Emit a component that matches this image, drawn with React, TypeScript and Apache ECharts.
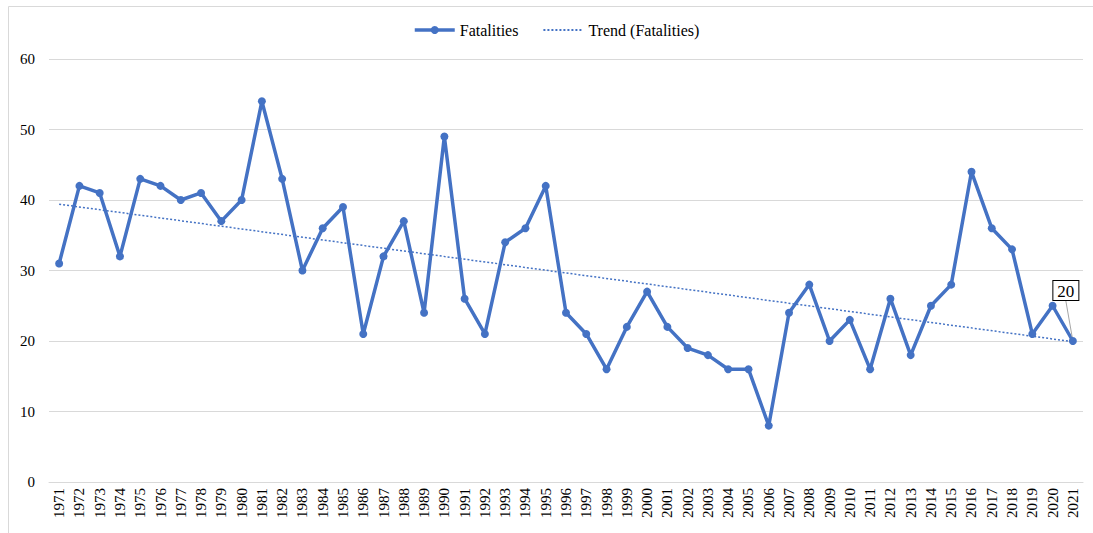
import React, { useEffect, useRef } from "react";
import * as echarts from "echarts";

const years: string[] = [
  "1971","1972","1973","1974","1975","1976","1977","1978","1979","1980",
  "1981","1982","1983","1984","1985","1986","1987","1988","1989","1990",
  "1991","1992","1993","1994","1995","1996","1997","1998","1999","2000",
  "2001","2002","2003","2004","2005","2006","2007","2008","2009","2010",
  "2011","2012","2013","2014","2015","2016","2017","2018","2019","2020","2021",
];

const fatalities: number[] = [
  31, 42, 41, 32, 43, 42, 40, 41, 37, 40,
  54, 43, 30, 36, 39, 21, 32, 37, 24, 49,
  26, 21, 34, 36, 42, 24, 21, 16, 22, 27,
  22, 19, 18, 16, 16, 8, 24, 28, 20, 23,
  16, 26, 18, 25, 28, 44, 36, 33, 21, 25, 20,
];

// Trend line end values (first and last year)
const trendStart = 39.4;
const trendEnd = 19.9;

const yTicks = { min: 0, max: 60, interval: 10 };

const BLUE = "#4472C4";
const FONT = "'Liberation Serif', 'Times New Roman', serif";

export default function App() {
  const ref = useRef<HTMLDivElement>(null);

  useEffect(() => {
    if (!ref.current) return;
    const chart = echarts.init(ref.current, undefined, { renderer: "svg" });
    const last = fatalities.length - 1;
    const trendData: (number | null)[] = years.map((_, i) =>
      i === 0 ? trendStart : i === last ? trendEnd : null
    );
    const mainData: any[] = fatalities.map((v, i) =>
      i === last
        ? {
            value: v,
            label: {
              show: true,
              position: "top",
              formatter: "{c}",
              color: "#000",
              fontFamily: FONT,
              fontSize: 17,
              backgroundColor: "#fff",
              borderColor: "#000",
              borderWidth: 1,
              padding: [2, 4, 0, 4],
            },
            labelLine: { show: true, lineStyle: { color: "#a6a6a6", width: 1 } },
          }
        : v
    );

    chart.setOption({
      animation: false,
      backgroundColor: "#fff",
      textStyle: { fontFamily: FONT },
      graphic: [
        {
          type: "rect",
          shape: { x: 8.5, y: 6.5, width: 1200, height: 700 },
          style: { fill: "none", stroke: "#d9d9d9", lineWidth: 1 },
          silent: true,
          z: -10,
        },
      ],
      legend: {
        top: 17,
        left: 408,
        itemGap: 24,
        itemWidth: 40,
        itemHeight: 10,
        textStyle: { fontFamily: FONT, fontSize: 16, color: "#000" },
        data: [
          { name: "Fatalities", lineStyle: { width: 3.5 } },
          {
            name: "Trend (Fatalities)",
            itemStyle: { color: "rgba(0,0,0,0)", borderWidth: 0, opacity: 0 },
          },
        ],
      },
      grid: { left: 49, right: 10, top: 59, bottom: 51, containLabel: false },
      xAxis: {
        type: "category",
        data: years,
        boundaryGap: true,
        axisLine: { show: true, lineStyle: { color: "#d9d9d9", width: 1 } },
        axisTick: { show: false },
        axisLabel: {
          rotate: 90,
          interval: 0,
          color: "#000",
          fontFamily: FONT,
          fontSize: 15,
          margin: 6,
        },
      },
      yAxis: {
        type: "value",
        min: yTicks.min,
        max: yTicks.max,
        interval: yTicks.interval,
        axisLine: { show: false },
        axisTick: { show: false },
        splitLine: { lineStyle: { color: "#d9d9d9", width: 1 } },
        axisLabel: { color: "#000", fontFamily: FONT, fontSize: 15, margin: 14 },
      },
      series: [
        {
          name: "Fatalities",
          type: "line",
          data: mainData,
          symbol: "circle",
          symbolSize: 8,
          itemStyle: { color: BLUE },
          lineStyle: { color: BLUE, width: 3.5 },
          z: 3,
          labelLayout: (p: any) =>
            p.dataIndex === last ? { dx: -7, dy: -32 } : {},
        },
        {
          name: "Trend (Fatalities)",
          type: "line",
          data: trendData,
          connectNulls: true,
          symbol: "none",
          itemStyle: { color: BLUE },
          lineStyle: { color: BLUE, width: 1.5, type: [2, 2] },
          z: 2,
        },
      ],
    });
    return () => chart.dispose();
  }, []);

  return (
    <div
      ref={ref}
      style={{ position: "absolute", left: 0, top: 0, width: 1093, height: 533 }}
    />
  );
}
